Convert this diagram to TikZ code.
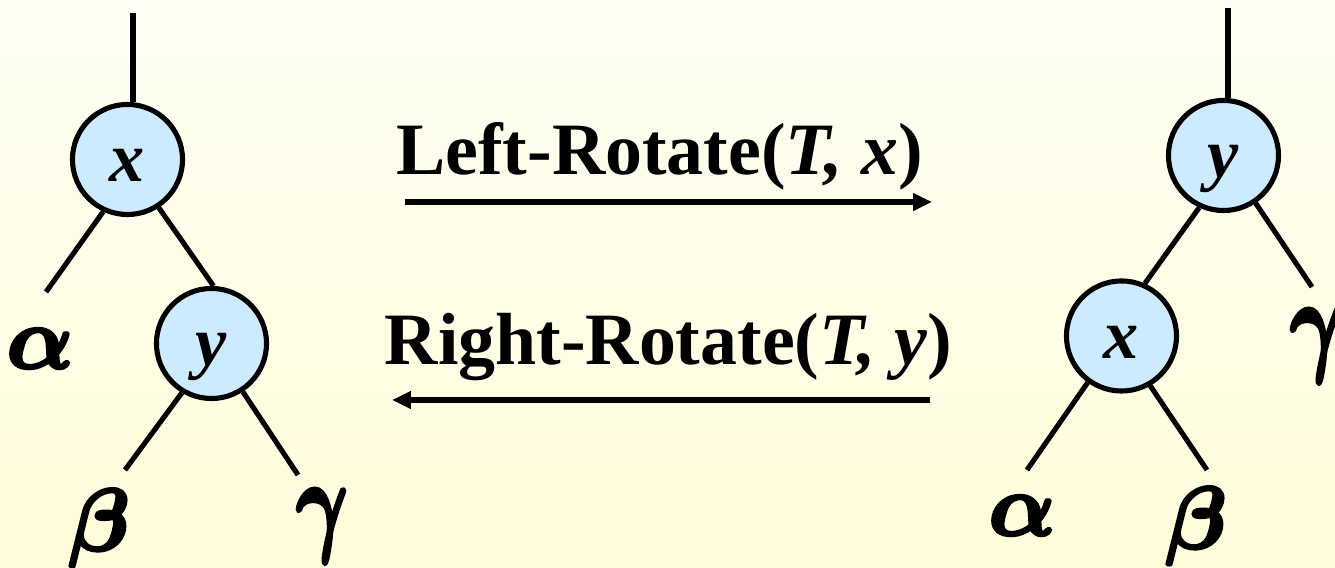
\documentclass[tikz,border=0pt]{standalone}
\usepackage{graphicx}
\usepackage{fontspec}
\setmainfont{Liberation Serif}
\usetikzlibrary{arrows.meta}
\definecolor{bgtop}{RGB}{254,254,243}
\definecolor{bgbot}{RGB}{255,252,218}
\definecolor{nodefill}{RGB}{204,235,255}
\newcommand{\heavy}[1]{\special{pdf:literal direct 2 Tr 0.9 w 0 G}#1\special{pdf:literal direct 0 Tr}}
\tikzset{
  treenode/.style={circle,draw=black,line width=1.45pt,fill=nodefill,minimum size=1.1cm,inner sep=0pt,
    text height=12.6pt,text depth=0pt,
    font=\fontsize{20}{22}\selectfont\bfseries\itshape},
  edge/.style={line width=1.45pt},
  greek/.style={anchor=base,inner sep=0pt,font=\fontsize{30}{32}\selectfont\boldmath},
  oplabel/.style={anchor=base,inner sep=0pt,font=\fontsize{21}{25}\selectfont\bfseries},
  oparrow/.style={line width=1.45pt,-{Triangle[length=5.4pt,width=4.8pt]}}
}
\newcommand{\tallgamma}{\scalebox{0.9}[1.3]{\heavy{$\gamma$}}}
\begin{document}
\begin{tikzpicture}[x=0.01cm,y=-0.01cm]
\shade[top color=bgtop,bottom color=bgbot] (0,0) rectangle (1335,568);
\useasboundingbox (0,0) rectangle (1335,568);
% left tree
\node[treenode] (xL) at (127.5,159.5) {x};
\node[treenode] (yL) at (211.5,343.5) {y};
\coordinate (topL) at (133,13);
\coordinate (aLe) at (46,292);
\coordinate (bLe) at (125,470);
\coordinate (gLe) at (298,475);
\draw[edge] (topL) -- (topL |- xL.north);
\draw[edge] (xL.245) -- (aLe);
\draw[edge] (xL.303) -- (yL.88);
\draw[edge] (yL.239) -- (bLe);
\draw[edge] (yL.303) -- (gLe);
\node[greek] (aL) at (40,368) {\heavy{$\alpha$}};
\node[greek] (bL) at (99,550) {\heavy{$\beta$}};
\node[greek] (gL) at (322,540) {\tallgamma};
% right tree
\node[treenode] (yR) at (1223.5,155.5) {y};
\node[treenode] (xR) at (1121.5,336) {x};
\coordinate (topR) at (1228,8);
\coordinate (gRe) at (1312,287);
\coordinate (aRe) at (1027,470);
\coordinate (bRe) at (1207,470);
\draw[edge] (topR) -- (topR |- yR.north);
\draw[edge] (yR.245) -- (xR.66);
\draw[edge] (yR.304) -- (gRe);
\draw[edge] (xR.234) -- (aRe);
\draw[edge] (xR.300) -- (bRe);
\node[greek] (aR) at (1022,535) {\heavy{$\alpha$}};
\node[greek] (bR) at (1196,548) {\heavy{$\beta$}};
\node[greek] (gR) at (1316,360) {\tallgamma};
% operations
\node[oplabel] (lrot) at (659.5,175) {Left-Rotate(\textit{T,~x})};
\node[oplabel] (rrot) at (668.5,365) {Right-Rotate(\textit{T,~y})};
\coordinate (la1) at (405,202);
\coordinate (la2) at (932,202);
\coordinate (ra1) at (930,400);
\coordinate (ra2) at (392,400);
\draw[oparrow] (la1) -- (la2);
\draw[oparrow] (ra1) -- (ra2);
\end{tikzpicture}
\end{document}
